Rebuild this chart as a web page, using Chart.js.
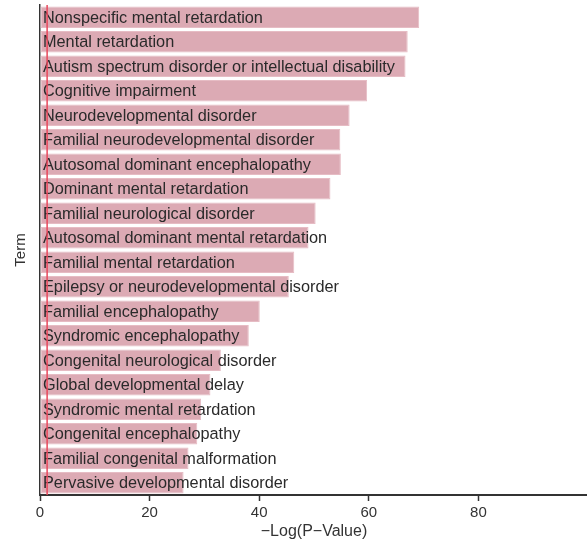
<!DOCTYPE html>
<html>
<head>
<meta charset="utf-8">
<script src="https://cdn.jsdelivr.net/npm/chart.js@4.4.0/dist/chart.umd.min.js"></script>
<style>
  html, body { margin: 0; padding: 0; background: #fff; overflow: hidden; }
  #wrap { width: 587px; height: 543px; overflow: hidden; }
</style>
</head>
<body>
<div id="wrap"><canvas id="chart" width="591" height="543"></canvas></div>
<script>
const terms = [
  'Nonspecific mental retardation',
  'Mental retardation',
  'Autism spectrum disorder or intellectual disability',
  'Cognitive impairment',
  'Neurodevelopmental disorder',
  'Familial neurodevelopmental disorder',
  'Autosomal dominant encephalopathy',
  'Dominant mental retardation',
  'Familial neurological disorder',
  'Autosomal dominant mental retardation',
  'Familial mental retardation',
  'Epilepsy or neurodevelopmental disorder',
  'Familial encephalopathy',
  'Syndromic encephalopathy',
  'Congenital neurological disorder',
  'Global developmental delay',
  'Syndromic mental retardation',
  'Congenital encephalopathy',
  'Familial congenital malformation',
  'Pervasive developmental disorder',
];
const logP = [69.2, 67.1, 66.7, 59.7, 56.5, 54.8, 54.9, 53.0, 50.3, 49.0,
              46.4, 45.4, 40.1, 38.1, 33.0, 31.1, 29.4, 28.7, 27.1, 26.2];
const xTicks = [0, 20, 40, 60, 80, 100];
const threshold = 1.3; // -log10(0.05)

const textColor = '#333333';
const fontFamily = 'Arial, "Liberation Sans", Helvetica, sans-serif';

// term names written inside the bars
const barLabels = {
  id: 'barLabels',
  afterDatasetsDraw(chart) {
    const { ctx } = chart;
    const meta = chart.getDatasetMeta(0);
    const x0 = chart.scales.x.getPixelForValue(0);
    ctx.save();
    ctx.font = '16.3px ' + fontFamily;
    ctx.fillStyle = '#2a2a2a';
    ctx.textBaseline = 'middle';
    ctx.textAlign = 'left';
    meta.data.forEach((bar, i) => {
      ctx.fillText(chart.data.labels[i], x0 + 3, bar.y + 1);
    });
    ctx.restore();
  },
};

// red significance line
const thresholdLine = {
  id: 'thresholdLine',
  afterDraw(chart) {
    const { ctx, chartArea } = chart;
    const x = chart.scales.x.getPixelForValue(threshold);
    ctx.save();
    ctx.strokeStyle = '#e8485c';
    ctx.lineWidth = 1.5;
    ctx.beginPath();
    ctx.moveTo(x, chartArea.top);
    ctx.lineTo(x, chartArea.bottom);
    ctx.stroke();
    ctx.restore();
  },
};

new Chart(document.getElementById('chart'), {
  type: 'bar',
  plugins: [barLabels, thresholdLine],
  data: {
    labels: terms,
    datasets: [{
      label: '-Log(P-Value)',
      data: logP,
      backgroundColor: '#dcaab4',
      borderColor: '#e6bcc4',
      borderWidth: 1,
      borderSkipped: false,
      barPercentage: 0.88,
      categoryPercentage: 1,
    }],
  },
  options: {
    indexAxis: 'y',
    responsive: false,
    animation: false,
    events: [],
    layout: { padding: { left: 0, right: 0, top: 5, bottom: 0 } },
    plugins: {
      legend: { display: false },
      tooltip: { enabled: false },
    },
    scales: {
      x: {
        type: 'linear',
        min: 0,
        max: 100,
        afterBuildTicks(scale) {
          scale.ticks = xTicks.map((v) => ({ value: v }));
        },
        afterFit(scale) {
          scale.height = 48;
        },
        grid: {
          drawOnChartArea: false,
          drawTicks: true,
          tickLength: 6,
          tickWidth: 1.5,
          color: '#333333',
        },
        border: { display: true, color: '#333333', width: 2 },
        ticks: {
          color: textColor,
          padding: 3,
          maxRotation: 0,
          font: { family: fontFamily, size: 15 },
          callback: (v) => (v === 100 ? '' : v),
        },
        title: {
          display: true,
          text: '\u2212Log(P\u2212Value)',
          color: textColor,
          font: { family: fontFamily, size: 16 },
          padding: { top: 0, bottom: 2 },
        },
      },
      y: {
        type: 'category',
        afterFit(scale) {
          scale.width = 40;
        },
        grid: { display: false },
        border: { display: true, color: '#333333', width: 1.5 },
        ticks: { display: false },
        title: {
          display: true,
          text: 'Term',
          color: textColor,
          font: { family: fontFamily, size: 15 },
          padding: { top: 12, bottom: 0 },
        },
      },
    },
  },
});
</script>
</body>
</html>
